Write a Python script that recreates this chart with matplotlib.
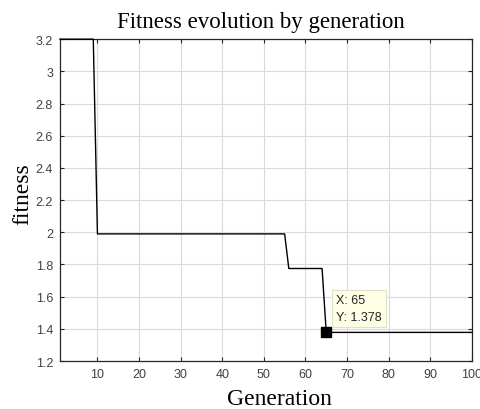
import matplotlib
matplotlib.use("Agg")
import matplotlib.pyplot as plt

# Data (breakpoints of the fitness curve per generation)
generations = [1, 9, 10, 55, 56, 64, 65, 100]
fitness = [3.2, 3.2, 1.99, 1.99, 1.775, 1.775, 1.378, 1.378]
tip_x, tip_y = 65, 1.378
x_ticks = [10, 20, 30, 40, 50, 60, 70, 80, 90, 100]
y_ticks = [1.2, 1.4, 1.6, 1.8, 2.0, 2.2, 2.4, 2.6, 2.8, 3.0, 3.2]
y_tick_labels = ["1.2", "1.4", "1.6", "1.8", "2", "2.2", "2.4", "2.6", "2.8", "3", "3.2"]

fig = plt.figure(figsize=(4.8, 4.1), dpi=100)
ax = fig.add_axes([0.125, 0.117, 0.858, 0.785])

ax.plot(generations, fitness, color="black", lw=1.0, zorder=3, clip_on=False)
ax.plot([tip_x], [tip_y], marker="s", ms=6.5, color="black", zorder=4)
ax.annotate("X: 65\nY: 1.378", xy=(tip_x, tip_y), xytext=(7, 7),
            textcoords="offset points", ha="left", va="bottom",
            fontsize=9, family="Liberation Sans", color="#262626",
            linespacing=1.5,
            bbox=dict(boxstyle="square,pad=0.35", fc="#FFFFE6", ec="#E0E0C8", lw=0.8),
            zorder=5)

ax.set_xlim(1, 100)
ax.set_ylim(1.2, 3.2)
ax.set_xticks(x_ticks)
ax.set_yticks(y_ticks)
ax.set_yticklabels(y_tick_labels)
ax.grid(True, color="#DADADA", lw=0.8)
ax.set_axisbelow(True)
ax.tick_params(direction="in", top=True, right=True, length=3, width=0.8,
               labelsize=9, colors="#262626", labelcolor="#404040", pad=5)
for lab in ax.get_xticklabels() + ax.get_yticklabels():
    lab.set_family("Liberation Sans")
for s in ax.spines.values():
    s.set_color("#262626")
    s.set_linewidth(0.9)

ax.set_title("Fitness evolution by generation", family="Liberation Serif",
             fontsize=16.5, pad=8.5, x=0.488)
ax.set_xlabel("Generation", family="Liberation Serif", fontsize=17)
ax.xaxis.set_label_coords(0.534, -0.083)
ax.set_ylabel("fitness", family="Liberation Serif", fontsize=17)
ax.yaxis.set_label_coords(-0.066, 0.522)

fig.savefig("out.png", dpi=100)
